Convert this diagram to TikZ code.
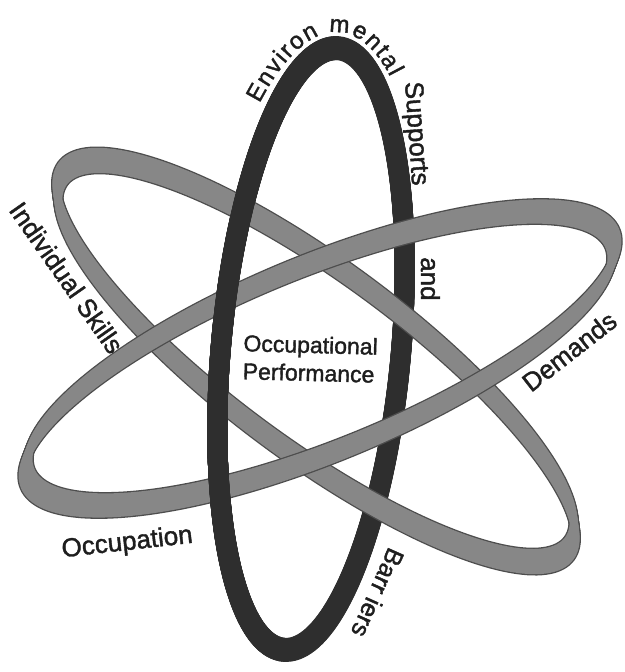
\documentclass[tikz,border=0pt]{standalone}
\usepackage{fontspec}
\setmainfont{Liberation Sans}
\newfontfamily\lblfont{Liberation Sans}[FakeBold=1.5]
\usetikzlibrary{decorations.text}
\definecolor{ringdark}{HTML}{2E2E2E}
\definecolor{ribfill}{HTML}{878787}
\definecolor{ribedge}{HTML}{4D4D4D}
\definecolor{txt}{HTML}{1E1E1E}
% ellipse: centre (#1,#2), semi-axes #3 (along unit (#5,#6)) and #4
\newcommand{\ringplot}[6]{plot[domain=0:360,samples=181] ({#1+#3*cos(\x)*(#5)-#4*sin(\x)*(#6)},{#2+#3*cos(\x)*(#6)+#4*sin(\x)*(#5)}) -- cycle}
\newcommand{\darkring}{\ringplot{311}{349}{302}{90}{0.0905}{-0.9959}}
\newcommand{\ribA}{\ringplot{316}{361}{315}{89}{0.804}{0.595}}
\newcommand{\ribB}{\ringplot{320}{358.5}{316}{92}{0.9253}{-0.3792}}
\tikzset{
  lbl/.style={inner sep=0pt, text=txt, font=\lblfont\fontsize{26}{30}\selectfont},
  midlbl/.style={inner sep=0pt, text=txt, align=left, font=\lblfont\fontsize{23}{28}\selectfont},
  darkband/.style={draw=ringdark, line width=20pt},
  ribedgeband/.style={draw=ribedge, line width=10pt},
  ribfillband/.style={draw=ribfill, line width=7.4pt}
}
\begin{document}
\begin{tikzpicture}[x=1pt,y=-1pt,line join=round]
\useasboundingbox[fill=white] (0,0) rectangle (624,672);
% dark ring (whole)
\foreach \k in {0,...,8}{\path[darkband,shift={(0,{(\k/8-0.5)*4})}] \darkring;}
% ribbon A (upper-left to lower-right)
\foreach \k in {0,...,10}{\path[ribedgeband,shift={({(\k/10-0.5)*2.4},{(\k/10-0.5)*17.8})}] \ribA;}
\foreach \k in {0,...,10}{\path[ribfillband,shift={({(\k/10-0.5)*2.4},{(\k/10-0.5)*17.8})}] \ribA;}
% ribbon B (lower-left to upper-right)
\foreach \k in {0,...,10}{\path[ribedgeband,shift={({(\k/10-0.5)*6.5},{(\k/10-0.5)*(-16.8)})}] \ribB;}
\foreach \k in {0,...,10}{\path[ribfillband,shift={({(\k/10-0.5)*6.5},{(\k/10-0.5)*(-16.8)})}] \ribB;}
% dark ring in front on its left half
\begin{scope}
\clip (347,-49) -- (275,747) -- (-100,747) -- (-100,-49) -- cycle;
\foreach \k in {0,...,8}{\path[darkband,shift={(0,{(\k/8-0.5)*4})}] \darkring;}
\end{scope}
% curved label over the top of the dark ring
\path[decorate,decoration={text along path,text align=fit to path,
  text={|\lblfont\fontsize{24}{28}\selectfont\color{txt}|Environ mental}}]
  plot[domain=-41:29,samples=71] ({311+318*cos(\x)*0.0905+112*sin(\x)*0.9959},{349-318*cos(\x)*0.9959+112*sin(\x)*0.0905});
\node[lbl,anchor=base west,rotate=-86] (supports) at (405,82) {Supports};
\node[lbl,anchor=base west,rotate=-90] (and) at (421,257) {and};
\node[lbl,anchor=base west,rotate=-114,font=\lblfont\fontsize{25}{30}\selectfont] (barriers) at (389,546) {Barr iers};
\node[lbl,anchor=base west,rotate=38] (demands) at (531,393) {Demands};
\node[lbl,anchor=base west,rotate=-55] (skills) at (8,210) {Individual Skills};
\node[lbl,anchor=base,rotate=6.4] (occupation) at (128,550) {Occupation};
\node[midlbl,anchor=west,rotate=-1.5] (perf) at (243,357) {Occupational\\Performance};
\end{tikzpicture}
\end{document}
